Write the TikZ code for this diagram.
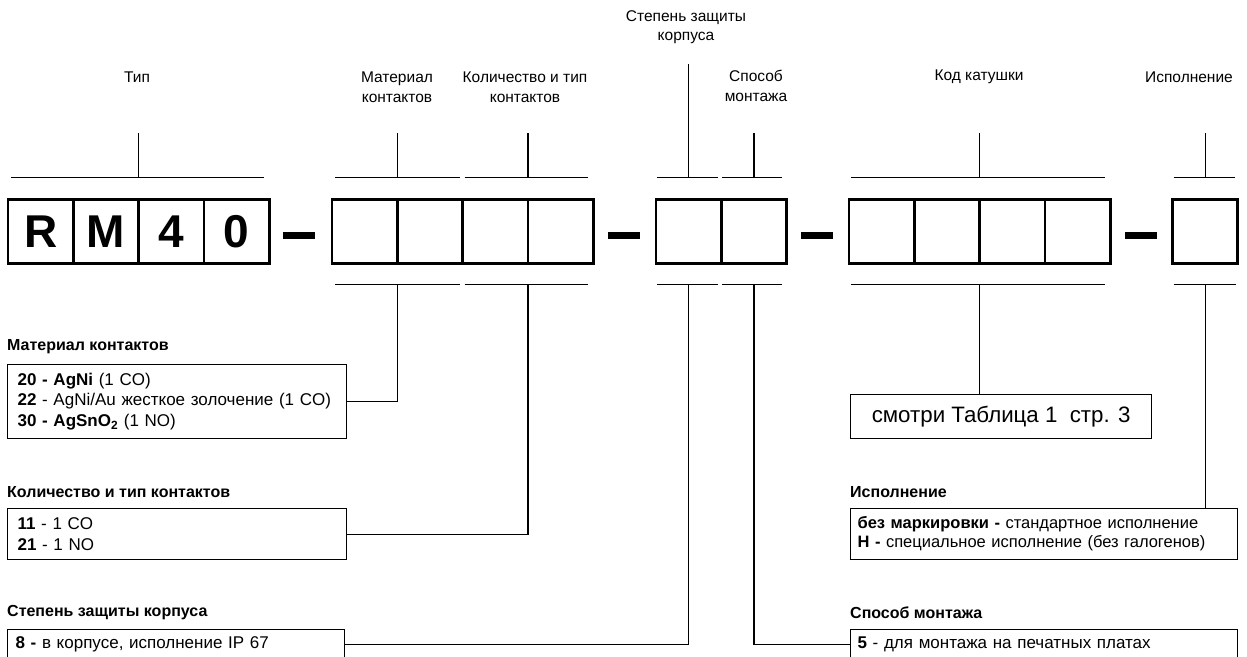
\documentclass[tikz,border=0pt]{standalone}
\usepackage{fontspec}
\setmainfont{Liberation Sans}
\begin{document}
\begin{tikzpicture}[x=1pt, y=-1pt]
\tikzstyle{case}=[rectangle,draw,line width=2.7pt,outer sep=0pt,minimum width=65.3pt,minimum height=64.4pt,inner sep=0pt,font=\fontsize{46}{46}\selectfont\bfseries]
\tikzstyle{tiret}=[rectangle,fill=black,minimum width=32pt,minimum height=7pt,inner sep=0pt]
\tikzstyle{titre}=[align=center,inner sep=0pt,font=\fontsize{15.5}{19.5}\selectfont]
\tikzstyle{trait}=[line width=1.2pt]
\tikzstyle{legende}=[rectangle,draw,line width=1.2pt,outer sep=0pt,anchor=north west,align=left,inner xsep=10pt,inner ysep=0pt,font=\fontsize{17}{20.5}\selectfont]
\tikzstyle{rubrique}=[anchor=west,inner sep=0pt,font=\fontsize{16}{16}\selectfont\bfseries]
\clip (0,0) rectangle (1247,656);
\node[case](t0) at (40.65,231.5) {R};
\node[case](t1) at (105.95,231.5) {M};
\node[case](t2) at (171.25,231.5) {4};
\node[case](t3) at (236.55,231.5) {0};
\node[tiret](d1) at (299,235) {};
\node[case](a0) at (364.65,231.5) {};
\node[case](a1) at (429.95,231.5) {};
\node[case](a2) at (495.25,231.5) {};
\node[case](a3) at (560.55,231.5) {};
\node[tiret](d2) at (624,235) {};
\node[case](b0) at (688.65,231.5) {};
\node[case](b1) at (753.95,231.5) {};
\node[tiret](d3) at (817,235) {};
\node[case](k0) at (881.65,231.5) {};
\node[case](k1) at (946.95,231.5) {};
\node[case](k2) at (1012.25,231.5) {};
\node[case](k3) at (1077.55,231.5) {};
\node[tiret](d4) at (1140.5,235) {};
\node[case](e0) at (1205.15,231.5) {};
\node[titre](lt) at (137,77) {Тип};
\node[titre](lm) at (397,87) {Материал\\контактов};
\node[titre](lq) at (525,87) {Количество и тип\\контактов};
\node[titre](lp) at (686,27) {Степень защиты\\корпуса};
\node[titre](ls) at (756,86) {Способ\\монтажа};
\node[titre](lk) at (979,77) {Код катушки};
\node[titre,anchor=east](li) at (1233,77) {Исполнение};
\draw[trait] ([xshift=3pt,yshift=22pt]t0.north west) -- ([xshift=-5pt,yshift=22pt]t3.north east);
\draw[trait] ([xshift=3pt,yshift=22pt]a0.north west) -- ([xshift=-3pt,yshift=22pt]a1.north east);
\draw[trait] ([xshift=2pt,yshift=22pt]a2.north west) -- ([xshift=-5pt,yshift=22pt]a3.north east);
\draw[trait] ([xshift=1pt,yshift=22pt]b0.north west) -- ([xshift=-3pt,yshift=22pt]b0.north east);
\draw[trait] ([xshift=1pt,yshift=22pt]b1.north west) -- ([xshift=-5pt,yshift=22pt]b1.north east);
\draw[trait] ([xshift=2pt,yshift=22pt]k0.north west) -- ([xshift=-5pt,yshift=22pt]k3.north east);
\draw[trait] ([xshift=1pt,yshift=22pt]e0.north west) -- ([xshift=-3pt,yshift=22pt]e0.north east);
\draw[trait] ([yshift=22pt]t1.north east) -- ([yshift=66pt]t1.north east);
\draw[trait] ([yshift=22pt]a0.north east) -- ([yshift=66pt]a0.north east);
\draw[trait] ([yshift=22pt]a2.north east) -- ([yshift=66pt]a2.north east);
\draw[trait] ([yshift=22pt]b0.north) -- ([yshift=135pt]b0.north);
\draw[trait] ([yshift=22pt]b1.north) -- ([yshift=66pt]b1.north);
\draw[trait] ([yshift=22pt]k1.north east) -- ([yshift=66pt]k1.north east);
\draw[trait] ([yshift=22pt]e0.north) -- ([yshift=66pt]e0.north);
\draw[trait] ([xshift=3pt,yshift=-21pt]a0.south west) -- ([xshift=-3pt,yshift=-21pt]a1.south east);
\draw[trait] ([xshift=2pt,yshift=-21pt]a2.south west) -- ([xshift=-5pt,yshift=-21pt]a3.south east);
\draw[trait] ([xshift=1pt,yshift=-21pt]b0.south west) -- ([xshift=-3pt,yshift=-21pt]b0.south east);
\draw[trait] ([xshift=1pt,yshift=-21pt]b1.south west) -- ([xshift=-5pt,yshift=-21pt]b1.south east);
\draw[trait] ([xshift=2pt,yshift=-21pt]k0.south west) -- ([xshift=-5pt,yshift=-21pt]k3.south east);
\draw[trait] ([xshift=1pt,yshift=-21pt]e0.south west) -- ([xshift=-2pt,yshift=-21pt]e0.south east);
\coordinate (pm) at ([yshift=-21pt]a0.south east);
\coordinate (pq) at ([yshift=-21pt]a2.south east);
\coordinate (pp) at ([yshift=-21pt]b0.south);
\coordinate (ps) at ([yshift=-21pt]b1.south);
\coordinate (pk) at ([yshift=-21pt]k1.south east);
\coordinate (pi) at ([yshift=-21pt]e0.south);
\node[rubrique](rm) at (7,347) {Материал контактов};
\node[legende,minimum height=74pt,text width=319pt](bm) at (7.6,364.6) {{\bfseries 20 - AgNi} (1 CO)\\{\bfseries 22} - AgNi/Au жесткое золочение (1 CO)\\{\bfseries 30 - AgSnO\textsubscript{2}} (1 NO)};
\node[rubrique](rq) at (7,492) {Количество и тип контактов};
\node[legende,minimum height=51pt,text width=319pt](bq) at (7.6,508.6) {{\bfseries 11} - 1 CO\\{\bfseries 21} - 1 NO};
\node[rubrique](rp) at (7,613) {Степень защиты корпуса};
\node[legende,minimum height=30pt,text width=321pt,inner xsep=8pt](bp) at (7.6,629.6) {{\bfseries 8 -} в корпусе, исполнение IP 67};
\node[legende,minimum height=44pt,minimum width=301pt,align=center,inner xsep=0pt,font=\fontsize{22.3}{22.3}\selectfont](bk) at (850.6,394.6) {смотри Таблица 1~~стр. 3};
\node[rubrique](ri) at (850,492) {Исполнение};
\node[legende,minimum height=51pt,text width=373pt,inner xsep=7pt,font=\fontsize{16.5}{19}\selectfont](bi) at (850.6,508.6) {{\bfseries без маркировки -} стандартное исполнение\\{\bfseries H -} специальное исполнение (без галогенов)};
\node[rubrique](rs) at (850,613) {Способ монтажа};
\node[legende,minimum height=30pt,text width=373pt,inner xsep=7pt](bs) at (850.6,629.6) {{\bfseries 5} - для монтажа на печатных платах};
\draw[trait] (pm) |- (bm.east);
\draw[trait] (pq) |- (bq.east);
\draw[trait] (pp) |- (bp.east);
\draw[trait] (ps) |- (bs.west);
\draw[trait] (pk) -- (bk.north -| pk);
\draw[trait] (pi) -- (bi.north -| pi);
\end{tikzpicture}
\end{document}
